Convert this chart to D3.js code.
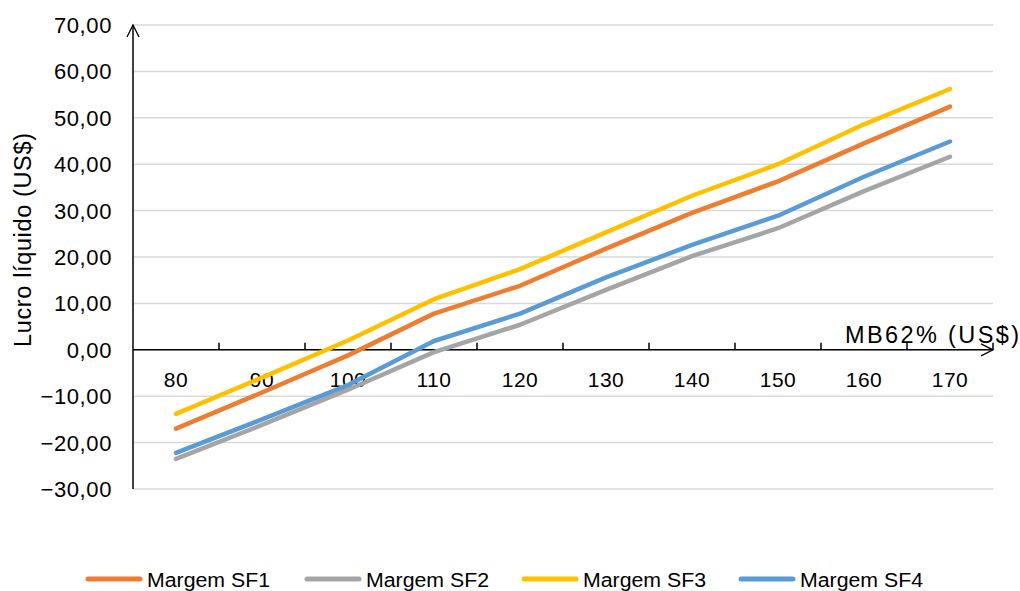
<!DOCTYPE html>
<html><head><meta charset="utf-8">
<script src="https://cdn.jsdelivr.net/npm/d3@7"></script>
<style>body{margin:0;background:#fff}svg{display:block}</style>
</head><body>
<svg id="c" width="1020" height="591"></svg>
<script>
const categories = [80, 90, 100, 110, 120, 130, 140, 150, 160, 170];
const seriesNames = ["Margem SF1", "Margem SF2", "Margem SF3", "Margem SF4"];
const sf1 = [-17.0, -9.2, -1.2, 7.8, 13.8, 21.8, 29.5, 36.3, 44.5, 52.4];
const sf2 = [-23.5, -16.2, -8.6, -0.5, 5.4, 12.9, 20.2, 26.2, 34.2, 41.6];
const sf3 = [-13.8, -6.0, 2.0, 10.9, 17.4, 25.3, 33.2, 40.0, 48.6, 56.2];
const sf4 = [-22.2, -15.0, -7.6, 1.9, 7.8, 15.6, 22.6, 28.9, 37.3, 44.9];
const yTicks = [-30, -20, -10, 0, 10, 20, 30, 40, 50, 60, 70];
const colors = ["#ED7D31", "#A5A5A5", "#FFC000", "#5B9BD5"];
const series = [sf1, sf2, sf3, sf4];

(function () {
const svg = d3.select("#c");
const pl = 133, pr = 993, pt = 25, pb = 489;
const x = d3.scaleBand().domain(categories).range([pl, pr]);
const y = d3.scaleLinear().domain([-30, 70]).range([pb, pt]);
const font = "'Liberation Sans', Arial, sans-serif";

// gridlines
svg.append("g").selectAll("line").data(yTicks).join("line")
  .attr("x1", pl).attr("x2", pr)
  .attr("y1", d => y(d)).attr("y2", d => y(d))
  .attr("stroke", "#d9d9d9").attr("stroke-width", 1.5);

// y tick labels
const fmt = v => d3.format(".2f")(v).replace(".", ",");
svg.append("g").selectAll("text").data(yTicks).join("text")
  .attr("x", 112).attr("y", d => y(d) + 8)
  .attr("text-anchor", "end").attr("font-family", font).attr("font-size", 22)
  .attr("letter-spacing", 0.6)
  .attr("fill", "#000").text(fmt);

// x tick labels
svg.append("g").selectAll("text").data(categories).join("text")
  .attr("x", d => x(d) + x.bandwidth() / 2).attr("y", y(0) + 37)
  .attr("text-anchor", "middle").attr("font-family", font).attr("font-size", 21)
  .attr("letter-spacing", 0.5)
  .attr("fill", "#000").text(d => d);

// x axis
const y0 = y(0);
svg.append("line").attr("x1", pl).attr("x2", pr).attr("y1", y0).attr("y2", y0)
  .attr("stroke", "#000").attr("stroke-width", 1.5);
svg.append("g").selectAll("line").data(categories.slice(1)).join("line")
  .attr("x1", d => x(d)).attr("x2", d => x(d)).attr("y1", y0 - 7).attr("y2", y0)
  .attr("stroke", "#000").attr("stroke-width", 1.5);
svg.append("line").attr("x1", pr).attr("x2", pr).attr("y1", y0 - 7).attr("y2", y0)
  .attr("stroke", "#000").attr("stroke-width", 1.5);
svg.append("path").attr("d", `M${pr - 12},${y0 - 6} L${pr},${y0} L${pr - 12},${y0 + 6}`)
  .attr("fill", "none").attr("stroke", "#000").attr("stroke-width", 1.3);

// y axis
svg.append("line").attr("x1", pl).attr("x2", pl).attr("y1", pt).attr("y2", pb)
  .attr("stroke", "#000").attr("stroke-width", 1.5);
svg.append("path").attr("d", `M${pl - 6},${pt + 12} L${pl},${pt} L${pl + 6},${pt + 12}`)
  .attr("fill", "none").attr("stroke", "#000").attr("stroke-width", 1.3);

// lines
const line = d3.line().x((d, i) => x(categories[i]) + x.bandwidth() / 2).y(d => y(d));
series.forEach((s, i) => {
  svg.append("path").datum(s).attr("d", line)
    .attr("fill", "none").attr("stroke", colors[i]).attr("stroke-width", 4.5)
    .attr("stroke-linejoin", "round").attr("stroke-linecap", "round");
});

// axis titles
svg.append("text").attr("transform", "translate(31,240) rotate(-90)")
  .attr("text-anchor", "middle").attr("font-family", font).attr("font-size", 23.5)
  .attr("textLength", 214).attr("lengthAdjust", "spacing")
  .attr("fill", "#000").text("Lucro líquido (US$)");
svg.append("text").attr("x", 845).attr("y", 343)
  .attr("font-family", font).attr("font-size", 23.5)
  .attr("textLength", 174).attr("lengthAdjust", "spacing")
  .attr("fill", "#000").text("MB62% (US$)");

// legend
const legX = [86, 305, 522, 739];
const lg = svg.append("g").selectAll("g").data(seriesNames).join("g")
  .attr("transform", (d, i) => `translate(${legX[i]},579)`);
lg.append("line").attr("x1", 2).attr("x2", 54).attr("y1", 0).attr("y2", 0)
  .attr("stroke", (d, i) => colors[i]).attr("stroke-width", 5).attr("stroke-linecap", "round");
lg.append("text").attr("x", 61).attr("y", 8).attr("font-family", font).attr("font-size", 20)
  .attr("textLength", 123).attr("lengthAdjust", "spacingAndGlyphs")
  .attr("fill", "#000").text(d => d);
})();
</script>
</body></html>
